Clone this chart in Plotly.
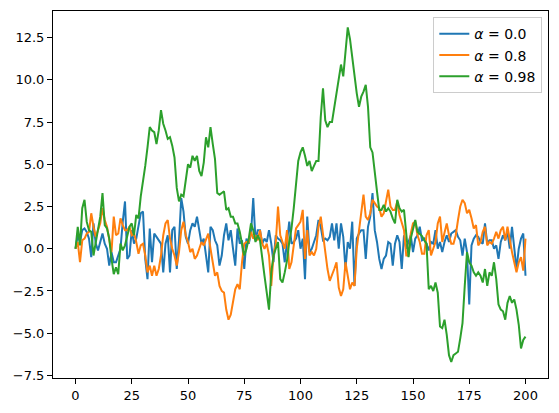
import plotly.graph_objects as go

# ---- data ----
steps = list(range(201))

alpha_labels = ["<i>α</i> = 0.0", "<i>α</i> = 0.8", "<i>α</i> = 0.98"]

series_a00 = [
    0.0, 0.8, 0.4, 1.1, 1.2, 1.0, 0.6, -0.5, 1.5, 0.3,
    -0.1, 0.4, 0.9, 0.3, 0.0, -1.0, -0.2, -0.8, -0.8, -0.4,
    0.0, 1.6, 2.8, -0.6, -0.4, 1.1, 0.3, 0.6, 1.3, 2.1,
    2.2, -0.6, -1.8, 1.2, -0.8, 0.9, 0.7, 0.5, 0.3, -1.4,
    0.3, 0.8, -1.4, 1.1, 1.3, -1.2, 0.5, 3.0, 2.2, 0.7,
    0.3, 1.1, 1.5, 1.3, 1.9, 1.1, 0.3, 0.6, -0.4, -1.4,
    1.3, 1.1, 0.5, 0.2, -1.0, -0.4, 0.8, 1.5, 0.5, 1.1,
    0.0, -1.0, 1.2, 0.3, 0.5, -1.2, 0.6, 0.3, 0.9, 3.0,
    0.5, 1.1, 1.1, 0.3, 0.6, 0.4, 1.1, 0.3, -0.8, 0.8,
    0.6, 0.5, 0.3, -0.8, 0.4, 1.6, 0.3, 0.4, 0.6, 1.1,
    0.0, 0.6, -1.8, 1.9, -0.2, 0.0, 0.4, 0.8, 1.7, 1.3,
    0.5, 0.6, 0.5, 0.7, 1.5, 0.5, 1.5, 0.0, 1.5, 0.7,
    -1.2, 0.4, 0.0, 1.6, -2.2, 0.6, 0.9, 1.1, 1.1, -0.6,
    1.3, 1.9, 3.3, 1.1, 0.4, -0.6, -1.2, -0.6, -0.4, 0.4,
    0.3, -1.0, 0.3, 0.8, 0.4, -1.2, 0.8, 0.0, 0.4, 0.8,
    -0.2, 0.6, 0.8, 1.3, 0.5, 0.6, 0.3, -0.1, 0.4, 0.3,
    1.1, 0.0, 0.4, -0.2, 0.4, 0.8, 0.4, 0.9, 1.0, 1.1,
    0.7, 0.5, -0.4, 0.6, -0.2, -3.3, 0.2, 0.6, 0.8, 0.7,
    0.4, 0.3, 1.5, 0.3, 0.5, 0.5, 0.0, 0.2, -0.6, 0.4,
    0.8, 0.5, 1.0, 0.0, 1.3, 0.2, -1.2, 0.0, 0.6, 0.9,
    -1.6,
]

series_a08 = [
    0.0, 0.4, -0.8, 0.5, 0.6, 0.9, 1.0, 2.1, 1.3, 0.7,
    1.1, 1.5, 2.4, 1.7, 1.3, 0.4, -0.2, 1.9, 0.8, 0.9,
    1.8, 1.4, 1.1, 1.1, 1.3, 0.8, 0.9, 0.4, -0.3, 0.2,
    0.3, -0.4, -1.4, -1.0, -1.6, -1.0, -1.6, -1.2, -0.4, 0.8,
    1.5, 1.7, 0.6, 0.0, -0.4, -1.0, -0.2, 1.1, 1.6, 0.8,
    0.4, -0.2, 0.0, -0.6, -0.4, 0.0, 0.4, 0.2, 0.6, 0.9,
    0.0, -0.8, -1.6, -1.4, -2.2, -2.5, -2.6, -3.6, -4.2, -3.9,
    -3.1, -2.4, -2.1, -2.4, -0.8, 0.3, 0.4, 0.4, 1.0, 0.6,
    0.8, 0.5, 1.1, 0.3, 0.0, 0.3, -0.4, -2.2, -0.4, 0.3,
    2.5, 0.8, 0.4, 0.0, 1.1, -1.2, -0.8, 0.3, 1.2, 1.4,
    1.6, 2.3, -0.6, 1.1, -0.4, -0.2, -0.4, 0.0, 1.3, 1.9,
    0.8, -0.4, -1.2, -1.9, -1.6, -1.2, -0.8, -2.3, -2.8, -2.4,
    -0.8, -1.6, -2.4, -2.0, -2.2, 0.0, 1.2, 2.2, 3.2, 1.9,
    1.7, 2.1, 2.9, 2.7, 2.5, 2.4, 1.9, 2.1, 2.9, 3.5,
    2.5, 2.3, 2.3, 2.8, 2.0, 1.5, 1.1, -0.4, -0.4, 0.9,
    1.5, 1.6, 0.8, 0.4, -0.3, -0.3, 0.8, 1.1, -0.4, 0.0,
    0.4, 1.5, 1.9, 0.4, 0.9, 1.5, 0.8, 0.3, 0.3, 0.8,
    1.7, 2.5, 2.9, 2.7, 2.1, 2.3, 1.8, 1.2, 1.4, 0.2,
    0.4, 1.0, 1.3, 0.2, 0.4, 0.3, 0.6, 1.0, 0.6, 1.1,
    1.3, 0.5, 1.3, 0.4, -0.2, -0.8, -1.4, -0.8, -0.5, -1.3,
    0.6,
]

series_a098 = [
    0.0, 1.3, 0.2, 2.4, 2.9, 1.6, 1.1, 1.0, -0.4, 0.3,
    1.0, 1.9, 3.3, 1.4, 1.2, 0.6, -0.6, -1.5, -1.1, -1.5,
    0.3, -0.1, 0.2, 0.8, 1.3, 1.5, 0.8, 2.0, 1.8, 3.1,
    3.9, 4.9, 6.0, 7.2, 7.0, 6.9, 6.2, 7.0, 8.2, 7.4,
    7.0, 6.5, 6.6, 6.1, 5.4, 3.6, 2.8, 3.2, 3.1, 4.1,
    5.0, 4.8, 5.5, 5.2, 5.5, 4.6, 4.3, 5.1, 6.6, 6.0,
    7.2, 6.2, 5.3, 3.3, 3.2, 3.3, 3.4, 2.3, 2.4, 1.9,
    1.9, 1.5, 1.5, 1.0, 0.4, -0.4, 0.0, 0.6, 1.5, 1.1,
    0.4, 0.8, 0.5, -0.4, -1.6, -2.6, -3.6, -1.4, -0.4, 0.0,
    0.4, -1.8, -2.0, -1.4, -0.7, 0.4, 1.2, 2.4, 4.0, 5.2,
    5.7, 6.0, 5.5, 4.9, 5.2, 4.6, 4.9, 5.2, 5.2, 7.8,
    9.5, 7.6, 7.2, 7.5, 7.5, 8.4, 9.3, 10.0, 10.9, 10.2,
    11.6, 13.1, 12.4, 11.3, 10.0, 9.2, 8.4, 9.0, 9.3, 9.7,
    8.4, 6.0, 5.7, 4.4, 3.4, 2.3, 2.3, 2.6, 2.2, 2.4,
    2.2, 1.8, 1.5, 2.9, 2.4, 2.2, 2.3, 0.9, -0.5, 0.6,
    1.1, 1.7, 1.0, 0.9, 0.75, 0.5, 0.3, -2.4, -2.2, -2.5,
    -2.0, -2.6, -4.6, -4.7, -4.2, -5.1, -6.3, -6.7, -6.3, -6.2,
    -6.1, -5.3, -4.4, -2.2, -0.2, -0.8, -1.0, -1.4, -1.6, -1.4,
    -1.6, -2.0, -1.2, -2.2, -1.4, -1.6, -0.8, -1.8, -3.3, -3.6,
    -3.7, -4.2, -3.2, -2.8, -3.2, -3.0, -3.6, -4.5, -5.9, -5.4,
    -5.2,
]

x_ticks = [0, 25, 50, 75, 100, 125, 150, 175, 200]
y_ticks = [-7.5, -5.0, -2.5, 0.0, 2.5, 5.0, 7.5, 10.0, 12.5]

colors = ["#1f77b4", "#ff7f0e", "#2ca02c"]

fig = go.Figure()
for ys, name, c in zip([series_a00, series_a08, series_a098], alpha_labels, colors):
    fig.add_trace(go.Scatter(x=steps, y=ys, mode="lines", name=name,
                             line=dict(color=c, width=2)))

axis_common = dict(
    showline=True, linecolor="black", linewidth=1, mirror=True,
    ticks="outside", ticklen=5, tickwidth=1, tickcolor="black",
    showgrid=False, zeroline=False,
    tickfont=dict(family="DejaVu Sans", size=13, color="black"),
)

fig.update_layout(
    width=559, height=413,
    margin=dict(l=53, r=10, t=10, b=34),
    paper_bgcolor="white", plot_bgcolor="white",
    font=dict(family="DejaVu Sans", size=13, color="black"),
    xaxis=dict(range=[-10, 210], tickvals=x_ticks,
               ticktext=[str(v) for v in x_ticks], **axis_common),
    yaxis=dict(range=[-7.65, 14.07], tickvals=y_ticks,
               ticktext=[f"{v:.1f}".replace("-", "\u2212") for v in y_ticks],
               **axis_common),
    legend=dict(x=0.9885, y=0.983, xanchor="right", yanchor="top",
                bgcolor="rgba(255,255,255,0.8)", bordercolor="#cccccc",
                borderwidth=1, font=dict(family="DejaVu Sans", size=14)),
    showlegend=True,
)

fig.write_html("out.html")
